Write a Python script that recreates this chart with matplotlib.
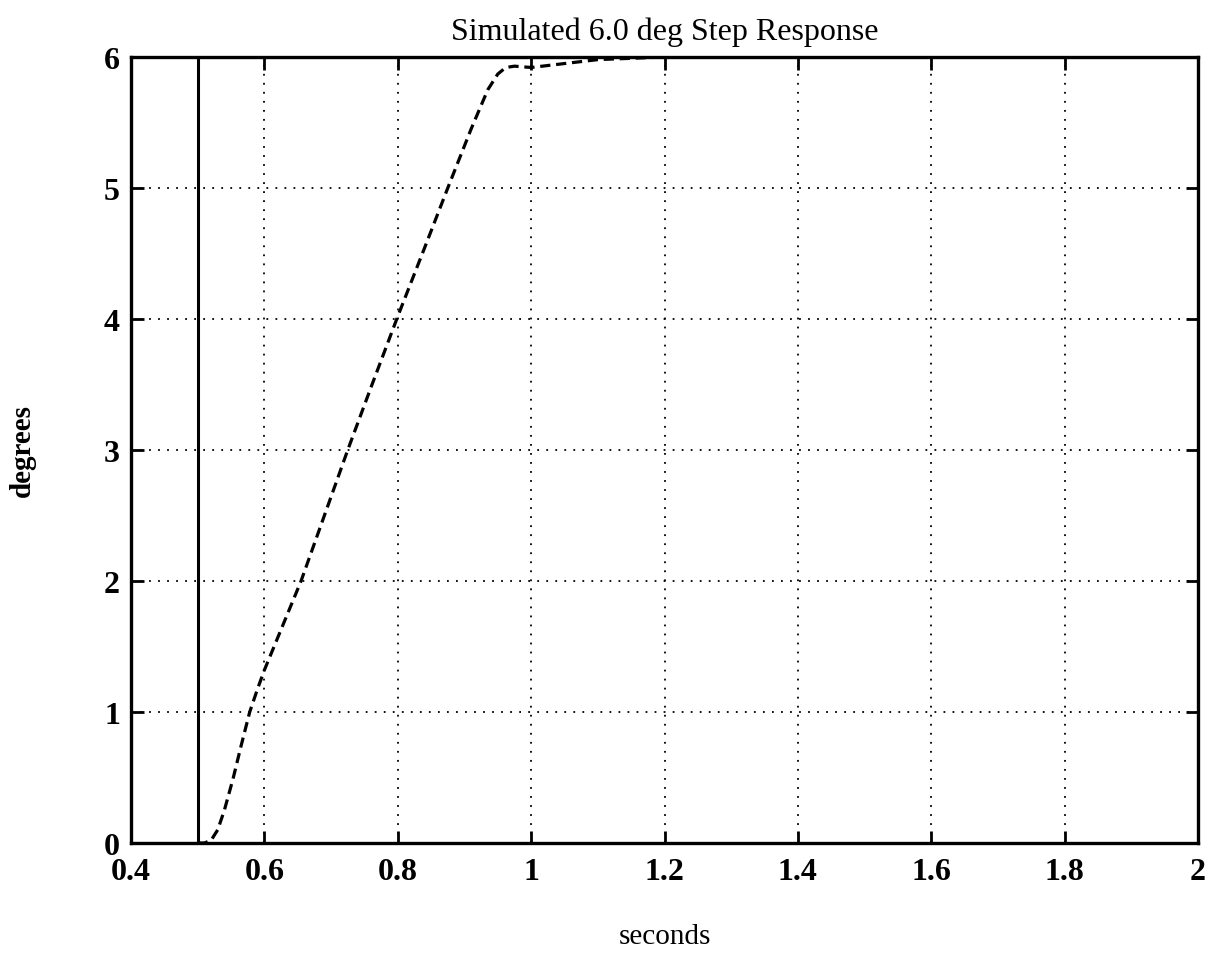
import numpy as np
import matplotlib
matplotlib.use("Agg")
import matplotlib.pyplot as plt

plt.rcParams['font.family'] = ['Liberation Serif', 'DejaVu Serif']

# commanded step: 0 until 0.5 s, then 6 deg
cmd_t = [0.4, 0.5, 0.5, 2.0]
cmd_deg = [0.0, 0.0, 6.0, 6.0]

# simulated response
resp_t = [0.5, 0.51, 0.52, 0.53, 0.54, 0.553, 0.565, 0.578, 0.59, 0.60,
          0.655, 0.69, 0.725, 0.76, 0.80, 0.84, 0.875, 0.91, 0.935, 0.95,
          0.962, 0.975, 1.0, 1.05, 1.1, 1.15, 1.2, 1.4, 2.0]
resp_deg = [0.0, 0.0, 0.02, 0.1, 0.25, 0.49, 0.74, 1.0, 1.18, 1.32,
            2.0, 2.5, 3.0, 3.48, 4.02, 4.54, 5.0, 5.45, 5.75, 5.87,
            5.92, 5.93, 5.92, 5.95, 5.98, 5.99, 6.0, 6.0, 6.0]

x_ticks = [0.4, 0.6, 0.8, 1.0, 1.2, 1.4, 1.6, 1.8, 2.0]
x_tick_labels = ['0.4', '0.6', '0.8', '1', '1.2', '1.4', '1.6', '1.8', '2']
y_ticks = [0, 1, 2, 3, 4, 5, 6]

fig = plt.figure(figsize=(12.14, 9.54), dpi=100)
ax = fig.add_axes([131/1214, 1 - 844/954, (1198-131)/1214, (844-58)/954])

ax.plot(cmd_t, cmd_deg, color='black', lw=2.2, solid_joinstyle='miter')
ax.plot(resp_t, resp_deg, color='black', lw=2.3, linestyle=(0, (3.2, 1.8)))

ax.set_xlim(0.4, 2.0)
ax.set_ylim(0, 6)
ax.set_xticks(x_ticks)
ax.set_xticklabels(x_tick_labels)
ax.set_yticks(y_ticks)
ax.grid(True, color='black', linestyle=(0, (1, 4)), linewidth=1.3)
ax.tick_params(direction='in', length=9, width=2.0, top=True, right=True,
               labelsize=23, pad=8)
ax.tick_params(axis='x', pad=10)
for lab in ax.get_xticklabels() + ax.get_yticklabels():
    lab.set_fontweight('bold')
for s in ax.spines.values():
    s.set_linewidth(2.4)

ax.set_title('Simulated 6.0 deg Step Response', fontsize=23, pad=13)
ax.set_xlabel('seconds', fontsize=21, va='center')
ax.xaxis.set_label_coords(0.5, -0.118)
ax.set_ylabel('degrees', fontsize=21, fontweight='bold', va='center')
ax.yaxis.set_label_coords(-0.102, 0.5)

fig.savefig('out.png', dpi=100, facecolor='white')
